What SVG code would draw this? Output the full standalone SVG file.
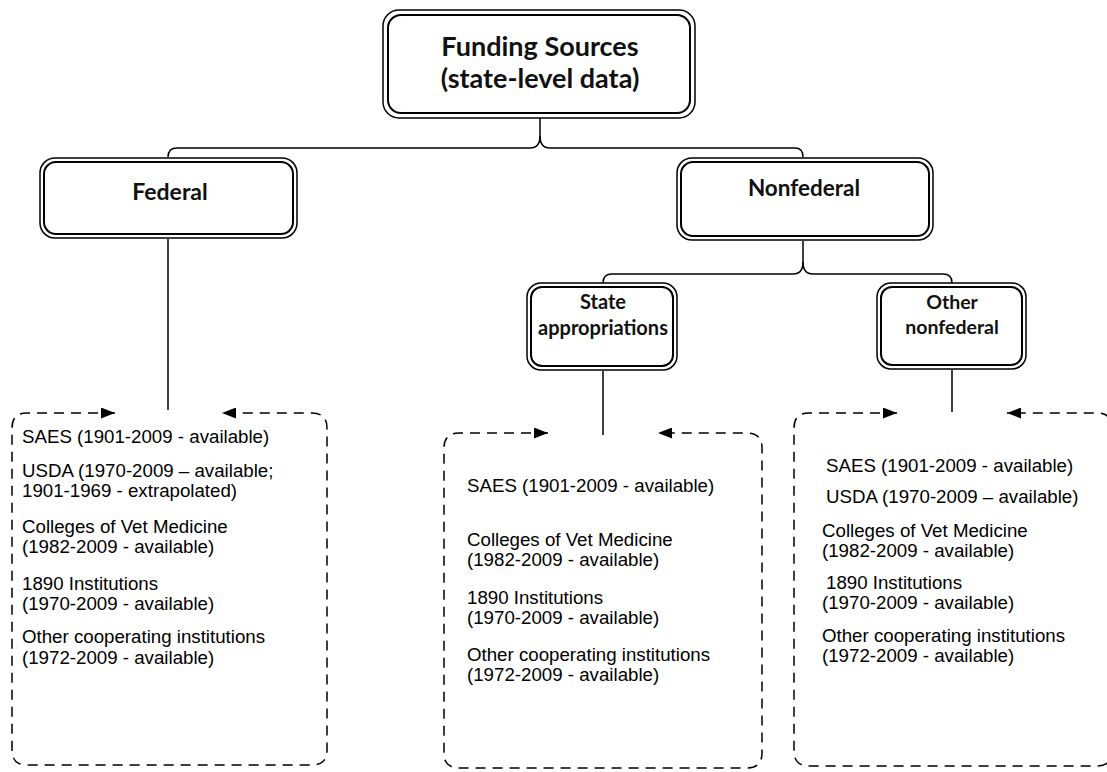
<svg xmlns="http://www.w3.org/2000/svg" width="1107" height="772" viewBox="0 0 1107 772">
<defs>
<style>
.outer{fill:none;stroke:#000;stroke-width:1.5}
.inner{fill:#fff;stroke:#000;stroke-width:2}
.head{font-family:Lato,"Liberation Sans",sans-serif;font-weight:700;fill:#111;text-anchor:middle}
.conn{fill:none;stroke:#000;stroke-width:1.5}
.dash{fill:none;stroke:#000;stroke-width:1.5;stroke-dasharray:10 7}
.item{font-family:"Liberation Sans",Arial,sans-serif;font-size:18.7px;fill:#000}
</style>
<marker id="ah" viewBox="0 0 14 11" refX="14" refY="5.5" markerWidth="14" markerHeight="11" markerUnits="userSpaceOnUse" orient="auto-start-reverse">
<path d="M0,0 L14,5.5 L0,11 Z" fill="#000"/>
</marker>
</defs>
<rect width="1107" height="772" fill="#fff"/>

<g id="connectors">
<path class="conn" d="M540,118 V136 Q540,148 530,148 H177 Q168,148 168,157"/>
<path class="conn" d="M540,136 Q540,148 550,148 H795 Q803,148 803,157"/>
<path class="conn" d="M168,239 V410"/>
<path class="conn" d="M803,241 V262 Q803,274 793,274 H612 Q603,274 603,283"/>
<path class="conn" d="M803,262 Q803,274 813,274 H943 Q952,274 952,283"/>
<path class="conn" d="M603,371 V435"/>
<path class="conn" d="M952,370 V412"/>
</g>

<g id="node-funding">
<rect class="outer" x="383" y="10" width="312" height="108" rx="16"/>
<rect class="inner" x="388" y="15" width="302" height="98" rx="13"/>
<text class="head" x="540" y="56" font-size="27">Funding Sources</text>
<text class="head" x="540" y="88" font-size="27">(state-level data)</text>
</g>

<g id="node-federal">
<rect class="outer" x="40" y="158" width="257" height="80" rx="15"/>
<rect class="inner" x="44" y="162" width="249" height="72" rx="12"/>
<text class="head" x="170" y="200" font-size="23">Federal</text>
</g>

<g id="node-nonfederal">
<rect class="outer" x="677" y="158" width="256" height="82" rx="15"/>
<rect class="inner" x="681" y="162" width="248" height="74" rx="12"/>
<text class="head" x="804" y="196" font-size="22.5">Nonfederal</text>
</g>

<g id="node-state">
<rect class="outer" x="527" y="283" width="150" height="87" rx="14"/>
<rect class="inner" x="531" y="287" width="142" height="79" rx="11"/>
<text class="head" x="603" y="309" font-size="20">State</text>
<text class="head" x="603" y="335" font-size="20">appropriations</text>
</g>

<g id="node-other">
<rect class="outer" x="877" y="283" width="149" height="86" rx="14"/>
<rect class="inner" x="881" y="287" width="141" height="78" rx="11"/>
<text class="head" x="952" y="309" font-size="19.5">Other</text>
<text class="head" x="952" y="334" font-size="19.5">nonfederal</text>
</g>

<g id="box-federal">
<path class="dash" marker-start="url(#ah)" marker-end="url(#ah)" d="M115,413 H27 Q12,413 12,428 V750 Q12,765 27,765 H312 Q327,765 327,750 V428 Q327,413 312,413 H222"/>
<text class="item" x="22" y="443">SAES (1901-2009 - available)</text>
<text class="item" x="22" y="477">USDA (1970-2009 – available;</text>
<text class="item" x="22" y="497">1901-1969 - extrapolated)</text>
<text class="item" x="22" y="533">Colleges of Vet Medicine</text>
<text class="item" x="22" y="553">(1982-2009 - available)</text>
<text class="item" x="22" y="590">1890 Institutions</text>
<text class="item" x="22" y="610">(1970-2009 - available)</text>
<text class="item" x="22" y="643">Other cooperating institutions</text>
<text class="item" x="22" y="664">(1972-2009 - available)</text>
</g>

<g id="box-state">
<path class="dash" marker-start="url(#ah)" marker-end="url(#ah)" d="M548,433 H459 Q444,433 444,448 V753 Q444,768 459,768 H747 Q762,768 762,753 V448 Q762,433 747,433 H658"/>
<text class="item" x="467" y="492">SAES (1901-2009 - available)</text>
<text class="item" x="467" y="546">Colleges of Vet Medicine</text>
<text class="item" x="467" y="566">(1982-2009 - available)</text>
<text class="item" x="467" y="604">1890 Institutions</text>
<text class="item" x="467" y="624">(1970-2009 - available)</text>
<text class="item" x="467" y="661">Other cooperating institutions</text>
<text class="item" x="467" y="681">(1972-2009 - available)</text>
</g>

<g id="box-other">
<path class="dash" marker-start="url(#ah)" marker-end="url(#ah)" d="M897,413 H809 Q794,413 794,428 V751 Q794,766 809,766 H1097 Q1112,766 1112,751 V428 Q1112,413 1097,413 H1007"/>
<text class="item" x="826" y="472">SAES (1901-2009 - available)</text>
<text class="item" x="826" y="503">USDA (1970-2009 – available)</text>
<text class="item" x="822" y="537">Colleges of Vet Medicine</text>
<text class="item" x="822" y="557">(1982-2009 - available)</text>
<text class="item" x="826" y="589">1890 Institutions</text>
<text class="item" x="822" y="609">(1970-2009 - available)</text>
<text class="item" x="822" y="642">Other cooperating institutions</text>
<text class="item" x="822" y="662">(1972-2009 - available)</text>
</g>
</svg>
